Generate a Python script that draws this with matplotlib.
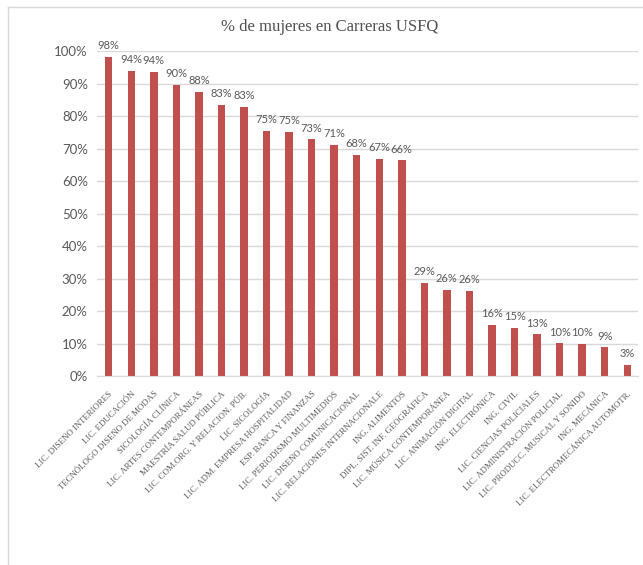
import matplotlib
matplotlib.use("Agg")
import matplotlib.pyplot as plt
from matplotlib.lines import Line2D
import numpy as np

# Carreras y porcentaje de mujeres matriculadas
carreras = [
    "LIC. DISEÑO INTERIORES",
    "LIC. EDUCACIÓN",
    "TECNÓLOGO DISEÑO DE MODAS",
    "SICOLOGÍA CLÍNICA",
    "LIC. ARTES CONTEMPORÁNEAS",
    "MAESTRÍA SALUD PÚBLICA",
    "LIC. COM.ORG. Y RELACION. PÚB.",
    "LIC. SICOLOGÍA",
    "LIC. ADM. EMPRESA HOSPITALIDAD",
    "ESP. BANCA Y FINANZAS",
    "LIC. PERIODISMO MULTIMEDIOS",
    "LIC. DISEÑO COMUNICACIONAL",
    "LIC. RELACIONES INTERNACIONALE",
    "ING. ALIMENTOS",
    "DIPL. SIST. INF. GEOGRÁFICA",
    "LIC. MÚSICA CONTEMPORÁNEA",
    "LIC. ANIMACIÓN DIGITAL",
    "ING. ELECTRÓNICA",
    "ING. CIVIL",
    "LIC. CIENCIAS POLICIALES",
    "LIC. ADMINISTRACIÓN POLICIAL",
    "LIC. PRODUCC. MUSICAL Y SONIDO",
    "ING. MECÁNICA",
    "LIC. ELECTROMECÁNICA AUTOMOTR.",
]
pct_mujeres = [
    98.2, 93.9, 93.6, 89.6, 87.5, 83.4, 82.8, 75.4, 75.1, 72.9, 71.2, 68.1,
    66.8, 66.4, 28.7, 26.5, 26.2, 15.7, 14.9, 12.8, 10.1, 9.9, 8.8, 3.4,
]
y_ticks = [0, 10, 20, 30, 40, 50, 60, 70, 80, 90, 100]

ROJO = "#C0504D"
GRIS_TEXTO = "#595959"
GRIS_LINEA = "#D9D9D9"

fig = plt.figure(figsize=(6.43, 5.65), dpi=100)
ax = fig.add_axes([0.1516, 0.3345, 0.8414, 0.5752])

x = np.arange(len(carreras))
bars = ax.bar(x, pct_mujeres, width=0.33, color=ROJO, zorder=3)

for b, v in zip(bars, pct_mujeres):
    ax.annotate(f"{v:.0f}%", (b.get_x() + b.get_width() / 2, v),
                xytext=(0, 4), textcoords="offset points",
                ha="center", va="bottom", fontsize=8,
                family="Lato", color=GRIS_TEXTO)

ax.set_xlim(-0.5, len(carreras) - 0.5)
ax.set_ylim(0, 100)
ax.set_yticks(y_ticks)
ax.set_yticklabels([f"{t}%" for t in y_ticks], family="Lato",
                   fontsize=9.5, color=GRIS_TEXTO)
ax.set_xticks(x)
ax.set_xticklabels(carreras, rotation=45, ha="right", va="top",
                   rotation_mode="anchor", family="Liberation Serif",
                   fontsize=6.3, color=GRIS_TEXTO)
ax.tick_params(axis="both", length=0)
ax.tick_params(axis="y", pad=7)
ax.tick_params(axis="x", pad=10)

ax.yaxis.grid(True, color=GRIS_LINEA, linewidth=1, zorder=0)
for lado in ["top", "right", "left"]:
    ax.spines[lado].set_visible(False)
ax.spines["bottom"].set_color(GRIS_LINEA)
ax.spines["bottom"].set_zorder(4)

fig.text(0.513, 0.952, "% de mujeres en Carreras USFQ",
         family="Liberation Serif", fontsize=12, color="#505050",
         ha="center", va="center")

# marco del gráfico (borde superior e izquierdo)
fig.add_artist(Line2D([8 / 643, 1.0], [1 - 7 / 565] * 2,
                      transform=fig.transFigure, color="#D9D9D9", lw=1))
fig.add_artist(Line2D([8 / 643] * 2, [0.0, 1 - 7 / 565],
                      transform=fig.transFigure, color="#D9D9D9", lw=1))

fig.savefig("out.png", dpi=100)
